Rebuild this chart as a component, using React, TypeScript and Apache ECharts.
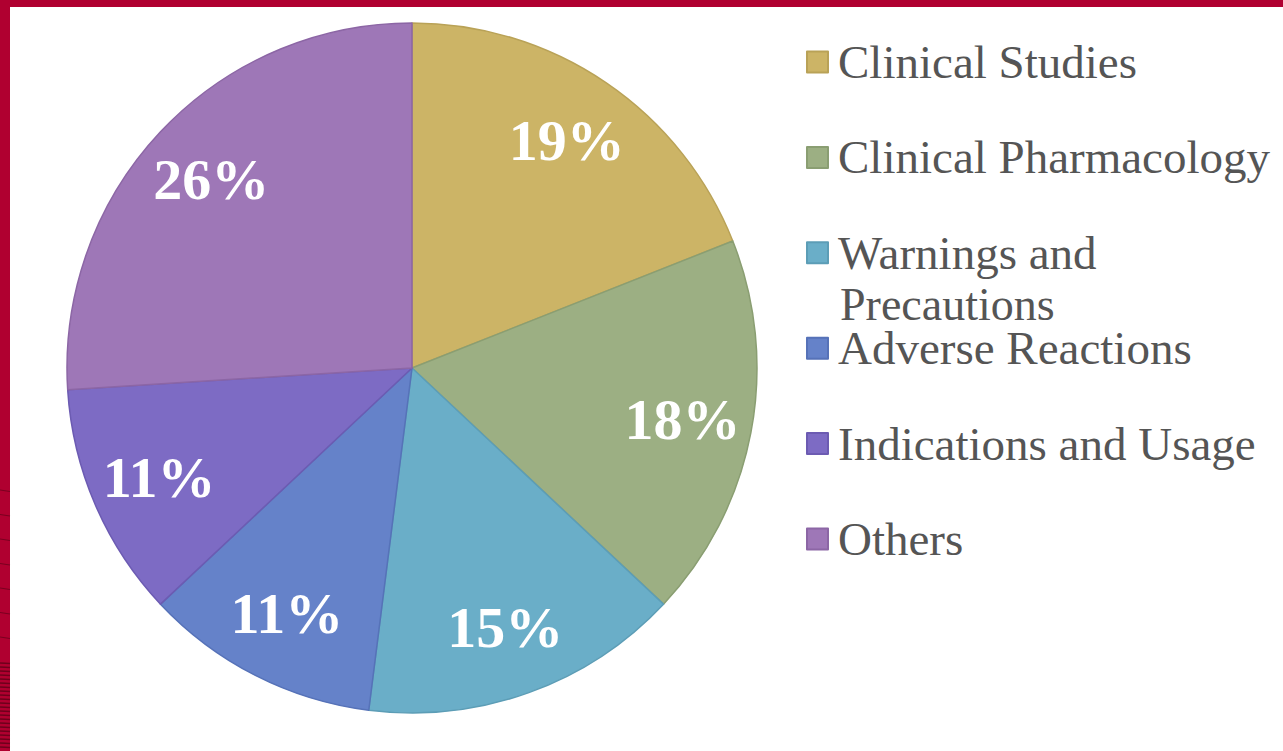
import React, { useEffect, useRef } from "react";
import * as echarts from "echarts";

const categories = [
  "Clinical Studies",
  "Clinical Pharmacology",
  "Warnings and Precautions",
  "Adverse Reactions",
  "Indications and Usage",
  "Others",
];
const values = [19, 18, 15, 11, 11, 26];
const colors = ["#CCB466", "#9CAF83", "#6AAEC8", "#6582C9", "#7D6BC4", "#9E77B7"];
const borderColors = ["#B9A257", "#8A9E72", "#5C9DB6", "#5672B8", "#6C5BB2", "#8C66A5"];

const FRAME = "#B00030";

export default function App() {
  const ref = useRef<HTMLDivElement>(null);

  useEffect(() => {
    if (!ref.current) return;
    const chart = echarts.init(ref.current, undefined, { renderer: "svg" });

    const stripes: any[] = [];
    for (let y = 490; y < 660; y += 24.5) {
      stripes.push({
        type: "line",
        shape: { x1: 0, y1: y, x2: 10, y2: y + 1.5 },
        style: { stroke: "#7A0020", lineWidth: 1.2 },
        z: 101,
      });
    }
    for (let y = 663; y < 751; y += 4) {
      stripes.push({
        type: "line",
        shape: { x1: 0, y1: y, x2: 10, y2: y + 0.5 },
        style: { stroke: "#6E001C", lineWidth: 1.5 },
        z: 101,
      });
    }

    const pieData = categories.map((name, i) => ({
      name,
      value: values[i],
      itemStyle: { color: colors[i], borderColor: borderColors[i], borderWidth: 1.5 },
    }));

    const labelData = categories.map((name, i) => ({
      name,
      value: values[i],
    }));

    chart.setOption({
      animation: false,
      backgroundColor: "#ffffff",
      legend: {
        orient: "vertical",
        left: 801,
        top: 33,
        icon: "rect",
        itemWidth: 21,
        itemHeight: 21,
        itemGap: 47.4,
        selectedMode: false,
        data: categories,
        formatter: (name: string) =>
          name === "Warnings and Precautions" ? "Warnings and" : name,
        textStyle: {
          fontFamily: "Liberation Serif",
          fontSize: 47,
          lineHeight: 48,
          color: "#555555",
          padding: [0, 0, 0, 5],
        },
      },
      graphic: [
        {
          type: "rect",
          shape: { x: 0, y: 0, width: 1283, height: 7 },
          style: { fill: FRAME },
          z: 100,
        },
        {
          type: "rect",
          shape: { x: 0, y: 0, width: 10, height: 751 },
          style: { fill: FRAME },
          z: 100,
        },
        ...stripes,
        {
          type: "text",
          left: 840,
          top: 281,
          style: {
            text: "Precautions",
            fontFamily: "Liberation Serif",
            fontSize: 46,
            lineHeight: 40,
            fill: "#555555",
          },
        },
      ],
      series: [
        {
          type: "pie",
          center: [412, 368],
          radius: [0, 345],
          startAngle: 90,
          clockwise: true,
          label: { show: false },
          labelLine: { show: false },
          emphasis: { disabled: true },
          data: pieData,
        },
        {
          type: "pie",
          center: [412, 368],
          radius: [200, 345],
          startAngle: 90,
          clockwise: true,
          silent: true,
          legendHoverLink: false,
          itemStyle: { color: "rgba(0,0,0,0)", borderWidth: 0 },
          label: {
            show: true,
            position: "inside",
            rotate: 0,
            formatter: (p: any) => `${Math.round(p.percent)}%`,
            fontFamily: "Liberation Serif",
            fontWeight: "bold",
            fontSize: 58,
            color: "#ffffff",
          },
          labelLine: { show: false },
          emphasis: { disabled: true },
          data: labelData,
          z: 3,
        },
      ],
    });

    return () => chart.dispose();
  }, []);

  return (
    <div
      ref={ref}
      style={{ position: "absolute", left: 0, top: 0, width: 1283, height: 751 }}
    />
  );
}
